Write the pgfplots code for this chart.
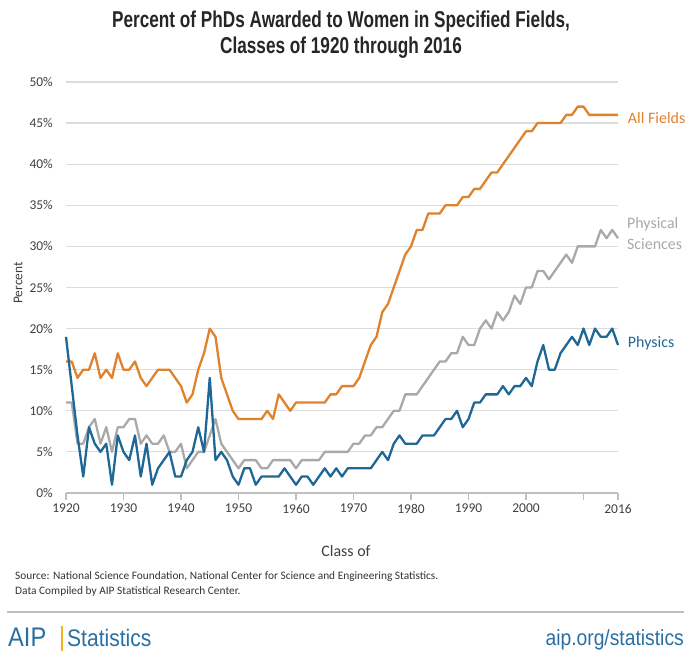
\documentclass[border=0pt]{standalone}
\usepackage{pgfplots}
\usepackage{pgfplotstable}
\pgfplotsset{compat=1.18}
\usepackage{fontspec}
\setmainfont{Carlito}
\newfontfamily\titlefont[FakeStretch=0.75]{Liberation Sans}
\newfontfamily\logofont[FakeStretch=0.88]{Liberation Sans}
\definecolor{cOrange}{HTML}{E0822C}
\definecolor{cGray}{HTML}{A9A9A9}
\definecolor{cBlue}{HTML}{1F6795}
\definecolor{cGrid}{HTML}{DCDCDC}
\definecolor{cAxis}{HTML}{BFBFBF}
\definecolor{cText}{HTML}{404040}
\definecolor{cTitle}{HTML}{262626}
\definecolor{cSrc}{HTML}{333333}
\definecolor{cLogo}{HTML}{2A6FA3}
\definecolor{cGold}{HTML}{F2B51C}

\pgfplotstableread{
year all phys physics
1920 16 11 19
1921 16 11 13
1922 14 6 7
1923 15 6 2
1924 15 8 8
1925 17 9 6
1926 14 6 5
1927 15 8 6
1928 14 5 1
1929 17 8 7
1930 15 8 5
1931 15 9 4
1932 16 9 7
1933 14 6 2
1934 13 7 6
1935 14 6 1
1936 15 6 3
1937 15 7 4
1938 15 5 5
1939 14 5 2
1940 13 6 2
1941 11 3 4
1942 12 4 5
1943 15 5 8
1944 17 5 5
1945 20 7 14
1946 19 9 4
1947 14 6 5
1948 12 5 4
1949 10 4 2
1950 9 3 1
1951 9 4 3
1952 9 4 3
1953 9 4 1
1954 9 3 2
1955 10 3 2
1956 9 4 2
1957 12 4 2
1958 11 4 3
1959 10 4 2
1960 11 3 1
1961 11 4 2
1962 11 4 2
1963 11 4 1
1964 11 4 2
1965 11 5 3
1966 12 5 2
1967 12 5 3
1968 13 5 2
1969 13 5 3
1970 13 6 3
1971 14 6 3
1972 16 7 3
1973 18 7 3
1974 19 8 4
1975 22 8 5
1976 23 9 4
1977 25 10 6
1978 27 10 7
1979 29 12 6
1980 30 12 6
1981 32 12 6
1982 32 13 7
1983 34 14 7
1984 34 15 7
1985 34 16 8
1986 35 16 9
1987 35 17 9
1988 35 17 10
1989 36 19 8
1990 36 18 9
1991 37 18 11
1992 37 20 11
1993 38 21 12
1994 39 20 12
1995 39 22 12
1996 40 21 13
1997 41 22 12
1998 42 24 13
1999 43 23 13
2000 44 25 14
2001 44 25 13
2002 45 27 16
2003 45 27 18
2004 45 26 15
2005 45 27 15
2006 45 28 17
2007 46 29 18
2008 46 28 19
2009 47 30 18
2010 47 30 20
2011 46 30 18
2012 46 30 20
2013 46 32 19
2014 46 31 19
2015 46 32 20
2016 46 31 18
}\datatable

\begin{document}
\begin{tikzpicture}[x=1bp,y=1bp]
\path[use as bounding box] (0,0) rectangle (687,652);
% title
\node[font=\titlefont\bfseries\fontsize{23}{27}\selectfont, text=cTitle] at (341,630) {Percent of PhDs Awarded to Women in Specified Fields,};
\node[font=\titlefont\bfseries\fontsize{23}{27}\selectfont, text=cTitle] at (341,604) {Classes of 1920 through 2016};
\begin{axis}[
  at={(66bp,159bp)}, anchor=south west,
  scale only axis, width=552bp, height=411bp,
  xmin=1920, xmax=2016, ymin=0, ymax=50,
  clip=false,
  axis x line*=bottom, axis y line*=left,
  y axis line style={draw=none},
  x axis line style={draw=cAxis, line width=1.3bp},
  ytick={0,5,...,50},
  ytick style={draw=none},
  xtick={1920,1930,1940,1950,1960,1970,1980,1990,2000,2010,2016},
  xticklabels={1920,1930,1940,1950,1960,1970,1980,1990,2000,,2016},
  xtick style={draw=cAxis, line width=1.3bp},
  tick align=outside,
  major tick length=7bp,
  ymajorgrids, grid style={draw=cGrid, line width=1.2bp},
  /pgf/number format/assume math mode=true,
  yticklabel={\pgfmathprintnumber{\tick}\%},
  ticklabel style={font=\fontsize{13.5}{16}\selectfont, text=cText, inner sep=0pt},
  yticklabel style={anchor=east},
  xticklabel style={anchor=north},
  yticklabel shift=6bp,
  xticklabel shift=4bp,
  every axis plot/.append style={line width=2.3bp, line join=round, mark=none},
]
\addplot[cGray] table[x=year, y=phys] {\datatable};
\addplot[cOrange] table[x=year, y=all] {\datatable};
\addplot[cBlue] table[x=year, y=physics] {\datatable};
\node[anchor=west, inner sep=0pt, text=cOrange, font=\fontsize{16}{19}\selectfont] at (axis cs:2017.7,45.6) {All Fields};
\node[anchor=west, inner sep=0pt, text=cGray, font=\fontsize{16}{21}\selectfont, align=left] at (axis cs:2017.55,31.6) {Physical\\Sciences};
\node[anchor=west, inner sep=0pt, text=cBlue, font=\fontsize{16}{19}\selectfont] at (axis cs:2017.7,18.2) {Physics};
\end{axis}
% axis labels
\node[rotate=90, text=cText, font=\fontsize{13.5}{16}\selectfont] at (18,369) {Percent};
\node[text=cText, font=\fontsize{16}{19}\selectfont] at (346,101) {Class of};
% source
\node[anchor=west, text=cSrc, font=\fontsize{11.4}{13}\selectfont, inner sep=0pt] at (15,75) {Source: National Science Foundation, National Center for Science and Engineering Statistics.};
\node[anchor=west, text=cSrc, font=\fontsize{11.4}{13}\selectfont, inner sep=0pt] at (15,61) {Data Compiled by AIP Statistical Research Center.};
% rule
\draw[draw=cAxis, line width=1.6bp] (7,40) -- (684,40);
% logo
\node[anchor=base west, inner sep=0pt, text=cLogo, font=\logofont\fontsize{27}{30}\selectfont] at (8,5) {AIP};
\fill[cGold] (60.5,1) rectangle (62.5,26);
\node[anchor=base west, inner sep=0pt, text=cLogo, font=\logofont\fontsize{24}{28}\selectfont] at (67,5) {Statistics};
\node[anchor=base east, inner sep=0pt, text=cLogo, font=\logofont\fontsize{22}{26}\selectfont] at (684,6) {aip.org/statistics};
\end{tikzpicture}
\end{document}
